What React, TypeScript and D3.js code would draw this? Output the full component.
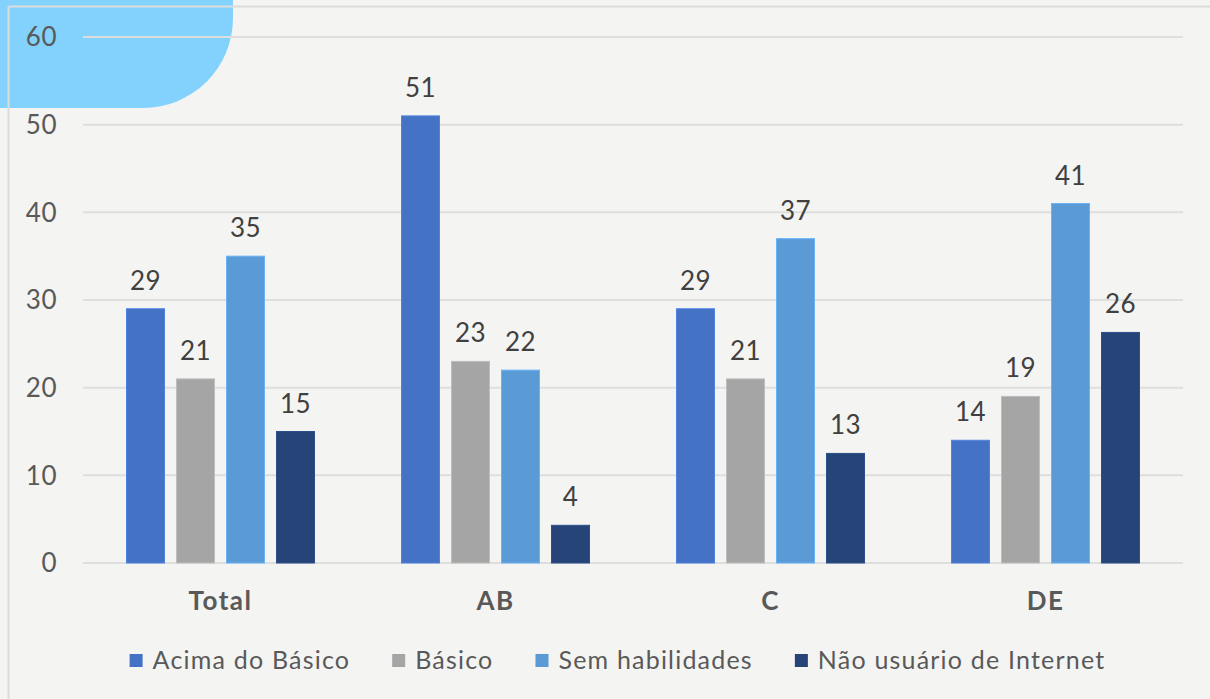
import React from "react";
import * as d3 from "d3";

const categories = ["Total", "AB", "C", "DE"];
const seriesNames = ["Acima do Básico", "Básico", "Sem habilidades", "Não usuário de Internet"];
const acimaDoBasico = [29, 51, 29, 14];
const basico = [21, 23, 21, 19];
const semHabilidades = [35, 22, 37, 41];
const naoUsuario = [15, 4.3, 12.5, 26.3];
const yTicks = [0, 10, 20, 30, 40, 50, 60];
const colors = ["#4472c4", "#a5a5a5", "#5b9bd5", "#264478"];

const W = 1210;
const H = 699;
const FONT = "Lato, 'Open Sans', sans-serif";

function measure(text: string, size: number, spacing: number, weight = "normal"): number {
  const fallback = text.length * size * 0.5;
  if (typeof document === "undefined") return fallback;
  const c = document.createElement("canvas");
  const ctx = c.getContext("2d");
  if (!ctx) return fallback;
  ctx.font = `${weight} ${size}px Lato`;
  return ctx.measureText(text).width + spacing * text.length;
}

export default function App() {
  const series = [acimaDoBasico, basico, semHabilidades, naoUsuario];
  const x0 = d3.scaleBand<string>().domain(categories).range([83, 1183]).paddingInner(0).paddingOuter(0);
  const groupWidth = 188;
  const x1 = d3
    .scaleBand<number>()
    .domain(d3.range(series.length))
    .range([0, groupWidth])
    .paddingInner(12 / 50)
    .paddingOuter(0);
  const y = d3.scaleLinear().domain([0, 60]).range([563, 37]);

  const legendFont = 25;
  const legendSpacing = 1.2;
  const markerSize = 13;
  const markerGap = 10;
  const itemGap = 42;
  const widths = seriesNames.map((s) => measure(s, legendFont, legendSpacing));
  const itemWidths = widths.map((w) => markerSize + markerGap + w);
  const totalLegend = d3.sum(itemWidths) + itemGap * (seriesNames.length - 1);
  const legendStart = 617.5 - totalLegend / 2;
  const legendX: number[] = [];
  let acc = legendStart;
  itemWidths.forEach((w) => {
    legendX.push(acc);
    acc += w + itemGap;
  });

  return (
    <svg
      width={W}
      height={H}
      style={{ position: "absolute", left: 0, top: 0, fontFamily: FONT }}
    >
      <rect x={0} y={0} width={W} height={H} fill="#f4f4f2" />
      <path d={`M0,0 H233 V18 A90,90 0 0 1 143,108 H0 Z`} fill="#83d2fe" />
      <line x1={8.5} y1={6.5} x2={W} y2={6.5} stroke="#dcdcdc" strokeWidth={2} />
      <line x1={8.5} y1={6.5} x2={8.5} y2={H} stroke="#dcdcdc" strokeWidth={2} />

      {yTicks.map((t) => (
        <g key={t}>
          <line x1={83} x2={1183} y1={y(t)} y2={y(t)} stroke="#dedede" strokeWidth={2} />
          <text
            x={57}
            y={y(t)}
            dy="0.36em"
            textAnchor="end"
            fontSize={26}
            letterSpacing={0.5}
            fill="#595959"
          >
            {t}
          </text>
        </g>
      ))}

      {categories.map((cat, ci) => {
        const gx = (x0(cat) as number) + x0.bandwidth() / 2 - groupWidth / 2;
        return (
          <g key={cat}>
            {series.map((vals, si) => {
              const v = vals[ci];
              const bx = gx + (x1(si) as number);
              const bw = x1.bandwidth();
              return (
                <g key={si}>
                  <rect
                    x={bx}
                    y={y(v)}
                    width={bw}
                    height={y(0) - y(v)}
                    fill={colors[si]}
                    stroke={d3.color(colors[si])!.brighter(0.4).formatHex()}
                    strokeWidth={1}
                  />
                  <text
                    x={bx + bw / 2}
                    y={y(v) - 19}
                    textAnchor="middle"
                    fontSize={26}
                    letterSpacing={0.5}
                    fill="#404040"
                  >
                    {Math.round(v)}
                  </text>
                </g>
              );
            })}
            <text
              x={(x0(cat) as number) + x0.bandwidth() / 2}
              y={610}
              textAnchor="middle"
              fontSize={26}
              fontWeight="bold"
              letterSpacing={1.5}
              fill="#595959"
            >
              {cat}
            </text>
          </g>
        );
      })}

      {seriesNames.map((name, i) => (
        <g key={name} transform={`translate(${legendX[i]},0)`}>
          <rect x={0} y={654} width={markerSize} height={markerSize} fill={colors[i]} />
          <text
            x={markerSize + markerGap}
            y={669}
            fontSize={legendFont}
            letterSpacing={legendSpacing}
            fill="#595959"
          >
            {name}
          </text>
        </g>
      ))}
    </svg>
  );
}
